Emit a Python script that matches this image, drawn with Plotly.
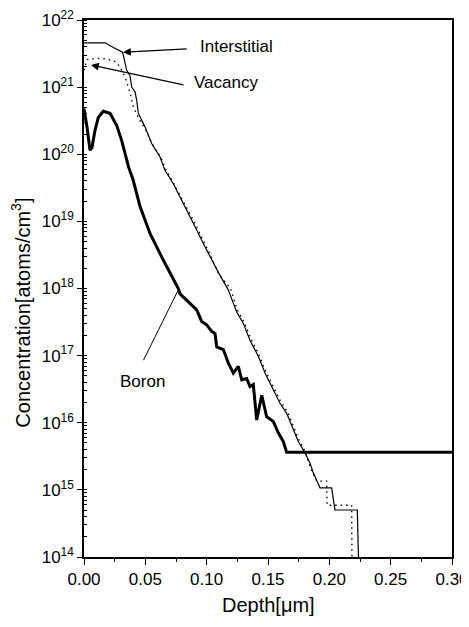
import plotly.graph_objects as go

# ---- data (log10 of concentration) ----
inter_depth = [0, 0.0171, 0.0239, 0.0315, 0.0348, 0.0375, 0.0389, 0.0416, 0.043, 0.0443,
               0.0497, 0.0552, 0.062, 0.066, 0.0728, 0.0796, 0.0864, 0.0919, 0.0973, 0.1027,
               0.1095, 0.1176, 0.1245, 0.1299, 0.1353, 0.1421, 0.1476, 0.1543, 0.1598, 0.1652,
               0.1706, 0.1747, 0.1802, 0.1842, 0.187, 0.1897, 0.1924, 0.2019, 0.2046, 0.2228, 0.2244]
inter_log = [21.66, 21.66, 21.59, 21.52, 21.25, 21.17, 21.00, 20.93, 20.80, 20.61,
             20.41, 20.16, 19.96, 19.76, 19.56, 19.32, 19.07, 18.87, 18.67, 18.47,
             18.24, 17.98, 17.65, 17.48, 17.23, 16.99, 16.74, 16.49, 16.29, 16.14,
             15.90, 15.72, 15.55, 15.40, 15.25, 15.15, 15.03, 15.03, 14.70, 14.70, 13.5]

vac_depth = [0, 0.0025, 0.010, 0.018, 0.026, 0.030, 0.0335, 0.0375, 0.0402, 0.045,
             0.050, 0.0555, 0.0625, 0.0665, 0.073, 0.080, 0.087, 0.0925, 0.098, 0.1035,
             0.110, 0.1195, 0.125, 0.1305, 0.136, 0.1425, 0.148, 0.155, 0.1605, 0.166,
             0.171, 0.1755, 0.180, 0.1853, 0.1897, 0.1978, 0.1982, 0.2182, 0.2186]
vac_log = [21.25, 21.41, 21.43, 21.42, 21.38, 21.28, 21.15, 20.92, 20.70, 20.52,
           20.38, 20.15, 19.96, 19.78, 19.57, 19.34, 19.09, 18.89, 18.69, 18.48,
           18.21, 18.00, 17.68, 17.50, 17.25, 17.02, 16.77, 16.51, 16.31, 16.16,
           15.93, 15.73, 15.58, 15.30, 15.13, 15.13, 14.77, 14.77, 13.5]

boron_depth = [0, 0.0025, 0.0049, 0.0065, 0.009, 0.0117, 0.0157, 0.0212, 0.0266, 0.0306,
               0.0365, 0.040, 0.0457, 0.0538, 0.0647, 0.0769, 0.0783, 0.0864, 0.0919, 0.0959,
               0.1000, 0.1041, 0.1068, 0.1082, 0.1136, 0.1176, 0.1217, 0.1258, 0.1286, 0.1326,
               0.1353, 0.1380, 0.1408, 0.1449, 0.1489, 0.1543, 0.1584, 0.1625, 0.1652, 0.30]
boron_log = [20.68, 20.40, 20.06, 20.10, 20.36, 20.55, 20.64, 20.61, 20.43, 20.21,
             19.80, 19.62, 19.22, 18.82, 18.42, 18.00, 17.92, 17.78, 17.68, 17.51,
             17.46, 17.36, 17.33, 17.13, 17.09, 16.89, 16.74, 16.84, 16.64, 16.66,
             16.54, 16.57, 16.04, 16.41, 16.09, 16.02, 15.85, 15.72, 15.56, 15.56]

y_tick_exps = [14, 15, 16, 17, 18, 19, 20, 21, 22]
x_ticks = [0.00, 0.05, 0.10, 0.15, 0.20, 0.25, 0.30]

FONT = "Liberation Sans, Arial, sans-serif"

fig = go.Figure()
fig.add_trace(go.Scatter(x=inter_depth, y=[10.0 ** v for v in inter_log], mode="lines",
                         line=dict(color="black", width=1.2), name="Interstitial"))
fig.add_trace(go.Scatter(x=vac_depth, y=[10.0 ** v for v in vac_log], mode="lines",
                         line=dict(color="black", width=1.4, dash="1.5px,4px"), name="Vacancy"))
fig.add_trace(go.Scatter(x=boron_depth, y=[10.0 ** v for v in boron_log], mode="lines",
                         line=dict(color="black", width=3), name="Boron"))

ann_font = dict(family=FONT, size=17, color="black")
annotations = [
    dict(x=0.0318, y=21.52, ax=0.0850, ay=21.57, xref="x", yref="y", axref="x", ayref="y",
         showarrow=True, arrowhead=2, arrowsize=1.2, arrowwidth=1.3, arrowcolor="black", text=""),
    dict(x=0.093, y=21.60, xref="x", yref="y", text="Interstitial", showarrow=False,
         xanchor="left", yanchor="middle", font=ann_font),
    dict(x=0.0057, y=21.33, ax=0.0823, ay=21.03, xref="x", yref="y", axref="x", ayref="y",
         showarrow=True, arrowhead=2, arrowsize=1.2, arrowwidth=1.3, arrowcolor="black", text=""),
    dict(x=0.0878, y=21.075, xref="x", yref="y", text="Vacancy", showarrow=False,
         xanchor="left", yanchor="middle", font=ann_font),
    dict(x=0.0769, y=17.98, ax=0.0479, ay=16.91, xref="x", yref="y", axref="x", ayref="y",
         showarrow=True, arrowhead=0, arrowwidth=1.0, arrowcolor="black", text=""),
    dict(x=0.028, y=16.61, xref="x", yref="y", text="Boron", showarrow=False,
         xanchor="left", yanchor="middle", font=ann_font),
    # axis titles
    dict(x=0, y=0.455, xref="paper", yref="paper", xshift=-63, textangle=-90,
         text="Concentration[atoms/cm<sup>3</sup>]", showarrow=False,
         xanchor="center", yanchor="middle", font=dict(family=FONT, size=20, color="black")),
    dict(x=0.5, y=0, xref="paper", yref="paper", yshift=-48,
         text="Depth[\u03bcm]", showarrow=False,
         xanchor="center", yanchor="middle", font=dict(family=FONT, size=20, color="black")),
]

# page body has an 8px margin: figure origin sits at (8, 8) in the window
fig.update_layout(
    width=461, height=619,
    margin=dict(l=76, r=17, t=11.5, b=69.5, autoexpand=False),
    paper_bgcolor="white", plot_bgcolor="white",
    showlegend=False,
    font=dict(family=FONT, size=17, color="black"),
    annotations=annotations,
)
fig.update_xaxes(
    range=[0, 0.30], tickvals=x_ticks, ticktext=[f"{v:.2f}" for v in x_ticks],
    ticks="outside", ticklen=6, tickwidth=1.2, tickcolor="black",
    minor=dict(dtick=0.025, ticks="outside", ticklen=3, tickcolor="black", tickwidth=1),
    showline=True, linecolor="black", linewidth=1.5, mirror=True,
    showgrid=False, zeroline=False, automargin=False, ticklabeloverflow="allow",
    tickfont=dict(family=FONT, size=17, color="black"),
)
fig.update_yaxes(
    type="log", range=[14, 22],
    tickvals=[10.0 ** e for e in y_tick_exps],
    ticktext=[f"10<sup>{e}</sup>" for e in y_tick_exps],
    ticks="outside", ticklen=5, tickwidth=1.2, tickcolor="black",
    minor=dict(dtick="D1", ticks="inside", ticklen=3, tickcolor="black", tickwidth=1),
    showline=True, linecolor="black", linewidth=1.5, mirror=True,
    showgrid=False, zeroline=False, automargin=False, ticklabeloverflow="allow",
    tickfont=dict(family=FONT, size=17, color="black"),
)

fig.write_html("out.html")
